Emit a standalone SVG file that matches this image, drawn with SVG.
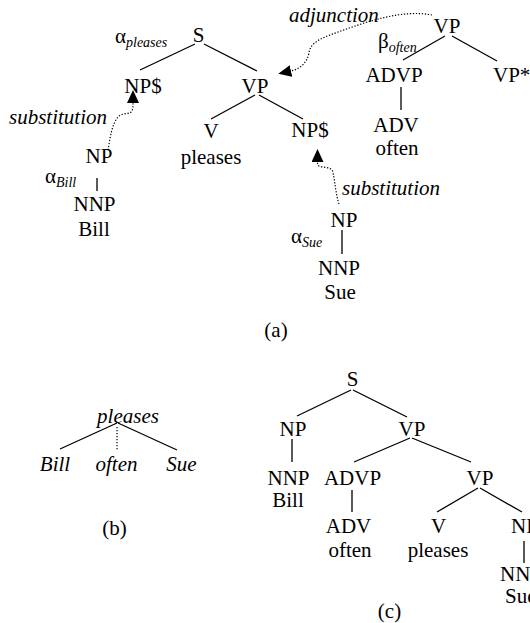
<svg xmlns="http://www.w3.org/2000/svg" width="530" height="623" viewBox="0 0 530 623">
<style>
text{font-family:"Liberation Serif","Times New Roman",serif;font-size:21px;fill:#000}
.m{text-anchor:middle}
.i{font-style:italic}
.sub{font-size:14px;font-style:italic}
.e{stroke:#000;stroke-width:1.3;fill:none}
.d{stroke:#000;stroke-width:1.2;fill:none;stroke-dasharray:1.3 1.7}
</style>
<defs>
<marker id="ah" markerUnits="userSpaceOnUse" markerWidth="13" markerHeight="12" viewBox="0 0 13 12" refX="0" refY="6" orient="auto">
<path d="M0,0 L13,6 L0,12 z" fill="#000"/>
</marker>
</defs>
<rect width="530" height="623" fill="#fff"/>
<g id="connectors">
<line class="e" x1="195" y1="44" x2="140" y2="70"/>
<line class="e" x1="204" y1="44" x2="257" y2="71"/>
<line class="e" x1="255" y1="95" x2="211" y2="119"/>
<line class="e" x1="259" y1="95" x2="303" y2="119"/>
<line class="e" x1="97" y1="178" x2="97" y2="191"/>
<line class="e" x1="342" y1="230" x2="342" y2="254"/>
<line class="e" x1="445" y1="36" x2="403" y2="60"/>
<line class="e" x1="452" y1="36" x2="497" y2="61"/>
<line class="e" x1="401" y1="87" x2="401" y2="110"/>
<path class="d" marker-end="url(#ah)" d="M108,150 C110,138 112,124 118,117 C123,112 130,115 132,111 C133,108 133,106 133,103"/>
<path class="d" marker-end="url(#ah)" d="M339,204 C336,195 335,183 333,172 C331,166 322,168 319,166 C317.5,165 317.5,164 317.5,162"/>
<path class="d" marker-end="url(#ah)" d="M432,15 C402,9 365,22 330,35 C314,41 310,46 309,53 C307,63 300,69 291,71"/>
<line class="e" x1="117" y1="423" x2="60" y2="449"/>
<line class="e" x1="118" y1="423" x2="177" y2="450"/>
<line class="d" x1="117" y1="427" x2="117" y2="451"/>
<line class="e" x1="351" y1="390" x2="297" y2="416"/>
<line class="e" x1="353" y1="390" x2="407" y2="417"/>
<line class="e" x1="292" y1="439" x2="292" y2="462"/>
<line class="e" x1="410" y1="438" x2="354" y2="462"/>
<line class="e" x1="412" y1="438" x2="471" y2="462"/>
<line class="e" x1="352" y1="490" x2="352" y2="512"/>
<line class="e" x1="478" y1="488" x2="437" y2="512"/>
<line class="e" x1="480" y1="488" x2="522" y2="512"/>
<line class="e" x1="524" y1="541" x2="524" y2="563"/>
</g>
<g id="a-S"><text class="m" x="198.5" y="42">S</text></g>
<g id="a-label-pleases"><text x="115" y="43">α<tspan class="sub" dy="4">pleases</tspan></text></g>
<g id="a-NPsub"><text class="m" x="143" y="93">NP$</text></g>
<g id="a-VP"><text class="m" x="255" y="93">VP</text></g>
<g id="a-V"><text class="m" x="211" y="138">V</text></g>
<g id="a-pleases"><text class="m" x="211" y="164">pleases</text></g>
<g id="a-NPsub2"><text class="m" x="310" y="137">NP$</text></g>
<g id="a-subst1"><text class="i" x="9" y="124">substitution</text></g>
<g id="bill-NP"><text class="m" x="99" y="163">NP</text></g>
<g id="bill-label"><text x="45" y="183">α<tspan class="sub" dy="4">Bill</tspan></text></g>
<g id="bill-NNP"><text class="m" x="94.5" y="211">NNP</text></g>
<g id="bill-word"><text class="m" x="94" y="236">Bill</text></g>
<g id="a-subst2"><text class="i" x="342" y="195">substitution</text></g>
<g id="sue-NP"><text class="m" x="344" y="227">NP</text></g>
<g id="sue-label"><text x="291" y="243">α<tspan class="sub" dy="4">Sue</tspan></text></g>
<g id="sue-NNP"><text class="m" x="339" y="275">NNP</text></g>
<g id="sue-word"><text class="m" x="340" y="299">Sue</text></g>
<g id="a-adjunction"><text class="i" x="289" y="22">adjunction</text></g>
<g id="often-VP"><text class="m" x="447" y="33">VP</text></g>
<g id="often-label"><text x="378" y="48">β<tspan class="sub" dy="4">often</tspan></text></g>
<g id="often-ADVP"><text class="m" x="394" y="82">ADVP</text></g>
<g id="often-VPfoot"><text x="493" y="82">VP*</text></g>
<g id="often-ADV"><text class="m" x="396" y="132">ADV</text></g>
<g id="often-word"><text class="m" x="397" y="155">often</text></g>
<g id="caption-a"><text class="m" x="276" y="337">(a)</text></g>
<g id="b-pleases"><text class="m i" x="128" y="423">pleases</text></g>
<g id="b-Bill"><text class="m i" x="55" y="471">Bill</text></g>
<g id="b-often"><text class="m i" x="116.5" y="471">often</text></g>
<g id="b-Sue"><text class="m i" x="181.5" y="471">Sue</text></g>
<g id="caption-b"><text class="m" x="114.5" y="535">(b)</text></g>
<g id="c-S"><text class="m" x="352.5" y="386">S</text></g>
<g id="c-NP"><text class="m" x="293" y="436">NP</text></g>
<g id="c-VP"><text class="m" x="412" y="436">VP</text></g>
<g id="c-NNP"><text class="m" x="288.5" y="485">NNP</text></g>
<g id="c-Bill"><text class="m" x="288" y="507">Bill</text></g>
<g id="c-ADVP"><text class="m" x="352.5" y="485">ADVP</text></g>
<g id="c-VP2"><text class="m" x="480" y="485">VP</text></g>
<g id="c-ADV"><text class="m" x="348.5" y="533">ADV</text></g>
<g id="c-often"><text class="m" x="350" y="557">often</text></g>
<g id="c-V"><text class="m" x="438.5" y="533">V</text></g>
<g id="c-pleases"><text class="m" x="438" y="557">pleases</text></g>
<g id="c-NP2"><text x="511" y="533">NP</text></g>
<g id="c-NNP2"><text x="500" y="581">NNP</text></g>
<g id="c-Sue"><text x="505" y="603">Sue</text></g>
<g id="caption-c"><text class="m" x="389.5" y="618">(c)</text></g>
</svg>
